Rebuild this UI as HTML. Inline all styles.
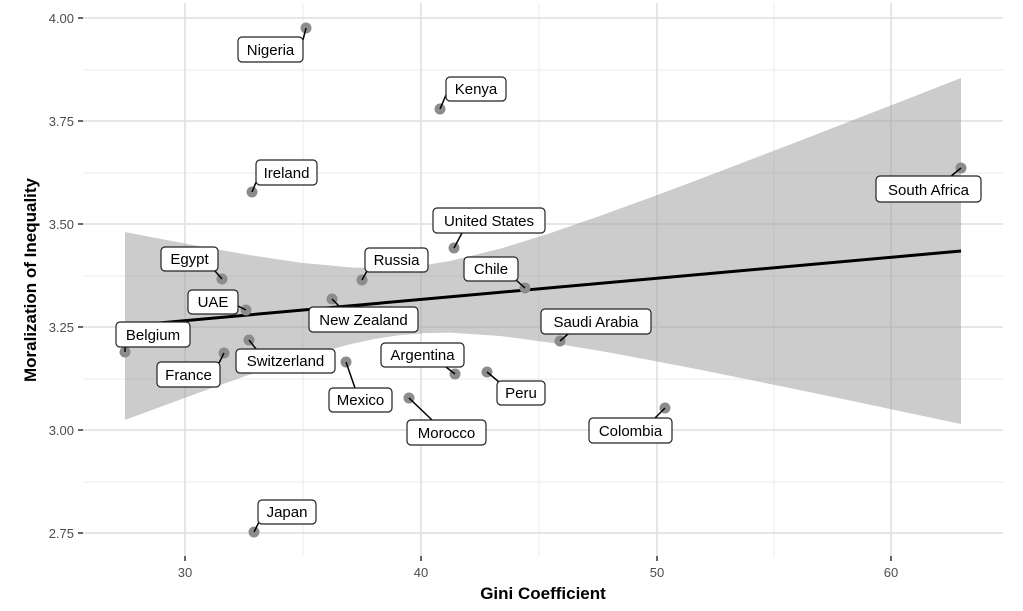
<!DOCTYPE html>
<html><head><style>
body{margin:0;background:#fff}
svg text{font-family:"Liberation Sans",sans-serif}
</style></head><body>
<svg width="1023" height="606" viewBox="0 0 1023 606" xmlns="http://www.w3.org/2000/svg">
<rect width="1023" height="606" fill="#fff"/>
<g stroke="#ebebeb" stroke-width="1">
<line x1="83" x2="1003" y1="70" y2="70"/><line x1="83" x2="1003" y1="173" y2="173"/><line x1="83" x2="1003" y1="276" y2="276"/><line x1="83" x2="1003" y1="379" y2="379"/><line x1="83" x2="1003" y1="482" y2="482"/>
<line x1="303" x2="303" y1="3" y2="556"/><line x1="539" x2="539" y1="3" y2="556"/><line x1="774" x2="774" y1="3" y2="556"/>
</g>
<g stroke="#e3e3e3" stroke-width="1.8">
<line x1="83" x2="1003" y1="18" y2="18"/><line x1="83" x2="1003" y1="121" y2="121"/><line x1="83" x2="1003" y1="224" y2="224"/><line x1="83" x2="1003" y1="327" y2="327"/><line x1="83" x2="1003" y1="430" y2="430"/><line x1="83" x2="1003" y1="533" y2="533"/>
<line x1="185" x2="185" y1="3" y2="556"/><line x1="421" x2="421" y1="3" y2="556"/><line x1="657" x2="657" y1="3" y2="556"/><line x1="891" x2="891" y1="3" y2="556"/>
</g>
<polygon fill="#999" fill-opacity="0.5" points="125,232 150,236.9 200,246.4 250,255.1 300,262.6 350,267.4 375,268.3 400,267.5 425,265.1 450,261 500,248.8 550,233.2 600,215.9 650,197.7 700,179 750,159.9 800,140.7 850,121.3 900,101.9 961,78 961,424 900,411.1 850,400.5 800,390.1 750,379.9 700,369.8 650,360.1 600,350.9 550,342.6 500,336 450,332.6 425,333.1 400,335.1 375,338.9 350,344.2 300,358 250,374.5 200,392.2 150,410.7 125,420"/>
<line x1="125" y1="326" x2="961" y2="251" stroke="#000" stroke-width="3"/>
<g fill="#8c8c8c">
<circle cx="306" cy="28" r="5.5"/><circle cx="440" cy="109" r="5.5"/><circle cx="252" cy="192" r="5.5"/><circle cx="961" cy="168" r="5.5"/><circle cx="454" cy="248" r="5.5"/><circle cx="222" cy="279" r="5.5"/><circle cx="362" cy="280" r="5.5"/><circle cx="525" cy="288" r="5.5"/><circle cx="246" cy="310" r="5.5"/><circle cx="332" cy="299" r="5.5"/><circle cx="125" cy="352" r="5.5"/><circle cx="560" cy="341" r="5.5"/><circle cx="249" cy="340" r="5.5"/><circle cx="224" cy="353" r="5.5"/><circle cx="346" cy="362" r="5.5"/><circle cx="455" cy="374" r="5.5"/><circle cx="487" cy="372" r="5.5"/><circle cx="409" cy="398" r="5.5"/><circle cx="665" cy="408" r="5.5"/><circle cx="254" cy="532" r="5.5"/>
</g>
<g stroke="#000" stroke-width="1.5">
<line x1="306" y1="28" x2="303" y2="40"/><line x1="440" y1="109" x2="446" y2="95"/><line x1="252" y1="192" x2="257" y2="180"/><line x1="961" y1="168" x2="950" y2="177"/><line x1="454" y1="248" x2="462" y2="233"/><line x1="222" y1="279" x2="215" y2="271"/><line x1="362" y1="280" x2="367" y2="271"/><line x1="525" y1="288" x2="516" y2="280"/><line x1="246" y1="310" x2="238" y2="306"/><line x1="332" y1="299" x2="340" y2="307"/><line x1="125" y1="352" x2="125" y2="347"/><line x1="560" y1="341" x2="568" y2="334"/><line x1="249" y1="340" x2="256" y2="349"/><line x1="224" y1="353" x2="219" y2="363"/><line x1="346" y1="362" x2="355" y2="388"/><line x1="455" y1="374" x2="446" y2="367"/><line x1="487" y1="372" x2="499" y2="382"/><line x1="409" y1="398" x2="432" y2="420"/><line x1="665" y1="408" x2="655" y2="418"/><line x1="254" y1="532" x2="260" y2="520"/>
</g>
<g fill="#fff" stroke="#222" stroke-width="1.2">
<rect x="238" y="37" width="65" height="25" rx="4"/>
<rect x="446" y="77" width="60" height="24" rx="4"/>
<rect x="256" y="160" width="61" height="25" rx="4"/>
<rect x="876" y="176" width="105" height="26" rx="4"/>
<rect x="433" y="208" width="112" height="25" rx="4"/>
<rect x="161" y="247" width="57" height="24" rx="4"/>
<rect x="365" y="248" width="63" height="24" rx="4"/>
<rect x="464" y="257" width="54" height="24" rx="4"/>
<rect x="188" y="290" width="50" height="24" rx="4"/>
<rect x="309" y="307" width="109" height="25" rx="4"/>
<rect x="116" y="322" width="74" height="25" rx="4"/>
<rect x="541" y="309" width="110" height="25" rx="4"/>
<rect x="236" y="349" width="99" height="24" rx="4"/>
<rect x="157" y="362" width="63" height="25" rx="4"/>
<rect x="381" y="343" width="83" height="24" rx="4"/>
<rect x="329" y="388" width="63" height="24" rx="4"/>
<rect x="497" y="381" width="48" height="24" rx="4"/>
<rect x="407" y="420" width="79" height="25" rx="4"/>
<rect x="589" y="418" width="83" height="25" rx="4"/>
<rect x="258" y="500" width="58" height="24" rx="4"/>
</g>
<g font-size="15" fill="#000" text-anchor="middle">
<text x="270.5" y="55">Nigeria</text>
<text x="476" y="94">Kenya</text>
<text x="286.5" y="178">Ireland</text>
<text x="928.5" y="195">South Africa</text>
<text x="489" y="226">United States</text>
<text x="189.5" y="264">Egypt</text>
<text x="396.5" y="265">Russia</text>
<text x="491" y="274">Chile</text>
<text x="213" y="307">UAE</text>
<text x="363.5" y="325">New Zealand</text>
<text x="153" y="340">Belgium</text>
<text x="596" y="327">Saudi Arabia</text>
<text x="285.5" y="366">Switzerland</text>
<text x="188.5" y="380">France</text>
<text x="422.5" y="360">Argentina</text>
<text x="360.5" y="405">Mexico</text>
<text x="521" y="398">Peru</text>
<text x="446.5" y="438">Morocco</text>
<text x="630.5" y="436">Colombia</text>
<text x="287" y="517">Japan</text>
</g>
<g stroke="#333" stroke-width="1.5">
<line x1="78" x2="83" y1="18" y2="18"/><line x1="78" x2="83" y1="121" y2="121"/><line x1="78" x2="83" y1="224" y2="224"/><line x1="78" x2="83" y1="327" y2="327"/><line x1="78" x2="83" y1="430" y2="430"/><line x1="78" x2="83" y1="533" y2="533"/>
<line x1="185" x2="185" y1="556" y2="561"/><line x1="421" x2="421" y1="556" y2="561"/><line x1="657" x2="657" y1="556" y2="561"/><line x1="891" x2="891" y1="556" y2="561"/>
</g>
<g font-size="13" fill="#4d4d4d" text-anchor="end">
<text x="74" y="23">4.00</text><text x="74" y="126">3.75</text><text x="74" y="229">3.50</text><text x="74" y="332">3.25</text><text x="74" y="435">3.00</text><text x="74" y="538">2.75</text>
</g>
<g font-size="13" fill="#4d4d4d" text-anchor="middle">
<text x="185" y="577">30</text><text x="421" y="577">40</text><text x="657" y="577">50</text><text x="891" y="577">60</text>
</g>
<text x="543" y="599" font-size="17" font-weight="bold" text-anchor="middle">Gini Coefficient</text>
<text transform="translate(36,280) rotate(-90)" font-size="17" font-weight="bold" text-anchor="middle">Moralization of Inequality</text>
</svg>
</body></html>
